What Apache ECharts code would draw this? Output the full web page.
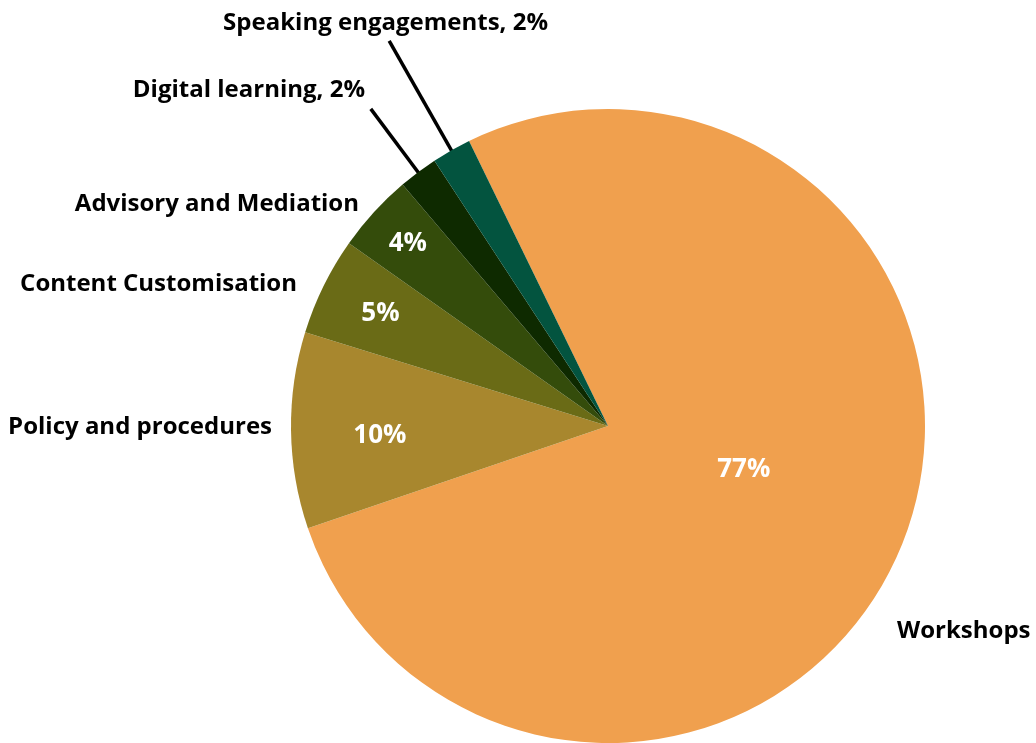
<!DOCTYPE html>
<html>
<head>
<meta charset="utf-8">
<script src="https://cdn.jsdelivr.net/npm/echarts@6/dist/echarts.min.js"></script>
<style>
  html, body { margin: 0; padding: 0; background: #fff; }
  #chart { width: 1036px; height: 743px; }
</style>
</head>
<body>
<div id="chart"></div>
<script>
// data
const categories = [
  "Workshops",
  "Policy and procedures",
  "Content Customisation",
  "Advisory and Mediation",
  "Digital learning",
  "Speaking engagements",
];
const shares = [77, 10, 5, 4, 2, 2];
const sliceColors = ["#F0A04E", "#A8872E", "#6A6B16", "#344C0B", "#0E2A00", "#03543F"];

const center = [608, 426];
const radius = 317;
const startAngle = 116;
const font = "Open Sans";

// percentage labels: [fraction of radius, angle shift in degrees]
const innerLabelPos = [[0.45, -4.7], [0.72, -1.5], [0.8, 0], [0.855, 0]];
// name labels sit outside, anchored by their text edge
const outerLabelPos = [
  { x: 897, y: 631, align: "left" },
  { x: 272, y: 427, align: "right" },
  { x: 297, y: 284, align: "right" },
  { x: 359, y: 204, align: "right" },
  { x: 365, y: 90, align: "right" },
  { x: 548, y: 23, align: "right" },
];
// leader lines for the tiny slices: [from, to] radius
const leaderLines = { 4: [302, 396], 5: [294, 443] };

const total = shares.reduce((a, b) => a + b, 0);
const midAngles = [];
let acc = 90 - startAngle;
shares.forEach((v) => {
  const span = (v / total) * 360;
  midAngles.push(acc + span / 2);
  acc += span;
});
const polar = (deg, r) => {
  const t = (deg * Math.PI) / 180;
  return [center[0] + r * Math.sin(t), center[1] - r * Math.cos(t)];
};

const data = categories.map((name, i) => ({
  name: name,
  value: shares[i],
  itemStyle: { color: sliceColors[i] },
}));

const chart = echarts.init(document.getElementById("chart"));
chart.setOption({
  animation: false,
  series: [
    {
      type: "pie",
      center: center,
      radius: radius,
      startAngle: startAngle,
      clockwise: true,
      data: data,
      label: {
        show: true,
        position: "inside",
        formatter: (p) => (p.dataIndex < 4 ? p.value + "%" : ""),
        color: "#fff",
        fontFamily: font,
        fontWeight: "bold",
        fontSize: 26,
      },
      labelLine: { show: false },
      labelLayout: (p) => {
        const f = innerLabelPos[p.dataIndex];
        if (f == null) return {};
        const pt = polar(midAngles[p.dataIndex] + f[1], f[0] * radius);
        return { x: pt[0], y: pt[1], align: "center", verticalAlign: "middle" };
      },
      emphasis: { disabled: true },
    },
    {
      type: "pie",
      center: center,
      radius: radius,
      startAngle: startAngle,
      clockwise: true,
      silent: true,
      data: categories.map((name, i) => ({
        name: name,
        value: shares[i],
        itemStyle: { color: "rgba(0,0,0,0)" },
        labelLine: { show: leaderLines[i] != null },
      })),
      label: {
        show: true,
        position: "outside",
        width: 400,
        overflow: "none",
        formatter: (p) => (p.dataIndex >= 4 ? p.name + ", " + p.value + "%" : p.name),
        color: "#000",
        fontFamily: font,
        fontWeight: "bold",
        fontSize: 24,
      },
      labelLine: {
        length: 20,
        length2: 0,
        lineStyle: { color: "#000", width: 3.5 },
      },
      labelLayout: (p) => {
        const o = outerLabelPos[p.dataIndex];
        const res = { x: o.x, y: o.y, align: o.align, verticalAlign: "middle" };
        const ll = leaderLines[p.dataIndex];
        if (ll) {
          res.labelLinePoints = [
            polar(midAngles[p.dataIndex], ll[0]),
            polar(midAngles[p.dataIndex], ll[1]),
            polar(midAngles[p.dataIndex], ll[1]),
          ];
        }
        return res;
      },
      emphasis: { disabled: true },
    },
  ],
});
</script>
</body>
</html>
